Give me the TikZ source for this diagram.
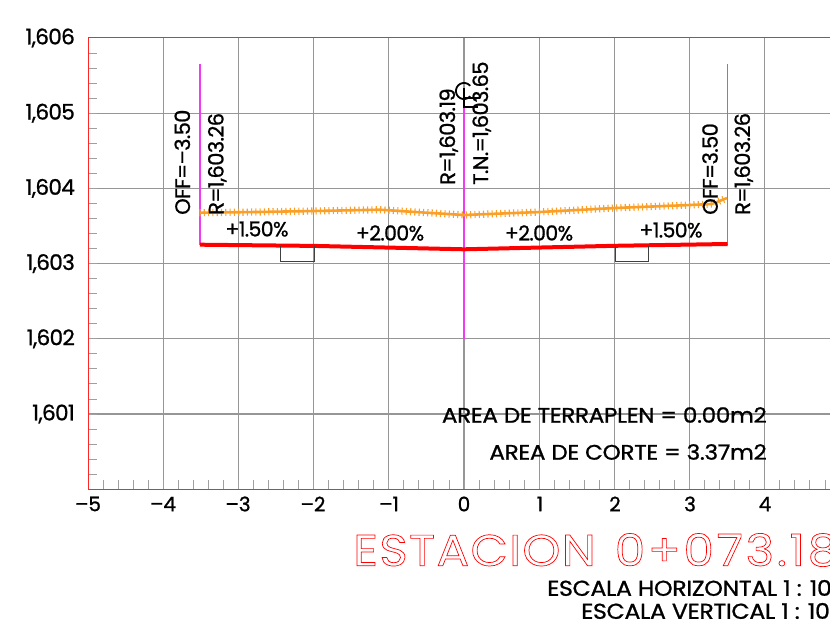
\documentclass[tikz,border=0pt]{standalone}
\usepackage{fontspec}
\setmainfont{Poppins}
\usetikzlibrary{decorations.pathreplacing}
\newfontfamily\tight[LetterSpace=-3,FakeBold=1]{Poppins}
\newfontfamily\digitfont[LetterSpace=-1,FakeBold=1]{Poppins}
\newfontfamily\stretched[FakeStretch=1.1,LetterSpace=-1.5,FakeBold=1]{Poppins}
\newfontfamily\wide[LetterSpace=3,FakeStretch=1.1]{Poppins}
\newfontfamily\wideb[LetterSpace=6,FakeStretch=1.1]{Poppins}
\definecolor{gridc}{RGB}{150,150,150}
\definecolor{tickc}{RGB}{160,160,160}
\definecolor{magc}{RGB}{240,60,240}
\definecolor{orgc}{RGB}{250,160,40}
\tikzset{
 gridline/.style={draw=gridc,line width=1.1pt},
 minortick/.style={draw=tickc,line width=0.9pt},
 axisline/.style={draw=red!85!white,line width=1pt},
 maglines/.style={draw=magc,line width=1.3pt},
 sub/.style={draw=red,line width=4pt},
 terr/.style={draw=orgc,line width=2.6pt},
 terrticks/.style={draw=orgc,line width=1.1pt,decorate,decoration={ticks,segment length=4.3pt,amplitude=3.6pt}},
 lab/.style={inner sep=0pt,font=\tight\fontsize{21}{21}\selectfont},
 vlab/.style={lab,rotate=90,anchor=base west},
 ylab/.style={lab,anchor=east,font=\tight\fontsize{21.5}{21}\selectfont},
 xlab/.style={lab,anchor=center,font=\digitfont\fontsize{20}{20}\selectfont},
 slope/.style={lab,anchor=center,font=\tight\fontsize{20.5}{20}\selectfont},
 area/.style={lab,anchor=east,font=\stretched\fontsize{21}{21}\selectfont},
 esc/.style={lab,anchor=west,font=\stretched\fontsize{21.5}{21}\selectfont},
 cl/.style={draw=black,line width=1.8pt},
}
\begin{document}
\begin{tikzpicture}[x=1pt,y=-1pt]
\useasboundingbox (0,0) rectangle (830,623);
\clip (0,0) rectangle (830,623);
% grid
\foreach \i in {1,...,9} \draw[gridline] ({88+75.2*\i},38) -- ({88+75.2*\i},489.3);
\foreach \i in {1,...,5} \draw[gridline] (88,{38+75.2*\i}) -- (830,{38+75.2*\i});
% minor ticks
\foreach \i in {1,...,29} \draw[minortick] (88,{38+15.04*\i}) -- (97,{38+15.04*\i});
\foreach \i in {1,...,49} \draw[minortick] ({88+15.04*\i},489.3) -- ({88+15.04*\i},480);
% axes
\draw[axisline] (830,38) -- (88,38) -- (88,489.3) -- (830,489.3);
% vertical magenta
\coordinate (ml) at (200,64); \coordinate (mlb) at (200,245);
\coordinate (mr) at (727.5,64); \coordinate (mrb) at (727.5,245);
\coordinate (mc) at (464,107); \coordinate (mcb) at (464,339);
\draw[maglines] (ml) -- (mlb);
\draw[maglines] (mr) -- (mrb);
\draw[maglines] (mc) -- (mcb);
% terrain
\def\terrpath{(200,212.7) -- (257,212) -- (314,211) -- (380,209.7) -- (420,212.3) -- (464,215) -- (540,212) -- (615,208) -- (690,205) -- (712,204) -- (727,198)}
\draw[terr] \terrpath;
\draw[terrticks] \terrpath;
% subgrade
\draw[sub] (200,244.7) -- (314,245.9) -- (464,249.3) -- (615,245.8) -- (727.5,244);
% small boxes
\draw[black!75,line width=.8pt] (280,246) -- (280,261) -- (314,261) -- (314,246);
\draw[black!75,line width=.8pt] (615,246) -- (615,261) -- (648,261) -- (648,246);
% CL symbol
\draw[cl] plot[domain=40:320,samples=40] ({464+8*cos(\x)},{91-8*sin(\x)});
\draw[cl] (464,88) -- (464,107) -- (478,107);
\draw[cl] (464,98) -- (480,98);
% rotated labels
\node[vlab] (a) at (190,215) {OFF=–3.50};
\node[vlab] (b) at (223.5,215) {R=1,603.26};
\node[vlab] (c) at (455,185) {R=1,603.19};
\node[vlab] (d) at (488,185) {T.N.=1,603.65};
\node[vlab] (e) at (717.7,215) {OFF=3.50};
\node[vlab] (f) at (750,215) {R=1,603.26};
% slopes
\node[slope] (s1) at (257,229) {+1.50\%};
\node[slope] (s2) at (390,233) {+2.00\%};
\node[slope] (s3) at (539,233) {+2.00\%};
\node[slope] (s4) at (671,230) {+1.50\%};
% y labels
\node[ylab] (y6) at (75,38) {1,606};
\node[ylab] (y5) at (75,113.2) {1,605};
\node[ylab] (y4) at (75,188.4) {1,604};
\node[ylab] (y3) at (75,263.6) {1,603};
\node[ylab] (y2) at (75,338.8) {1,602};
\node[ylab] (y1) at (75,414) {1,601};
% x labels
\node[xlab] (xm5) at (88,504) {–5};
\node[xlab] (xm4) at (163,504) {–4};
\node[xlab] (xm3) at (238,504) {–3};
\node[xlab] (xm2) at (313,504) {–2};
\node[xlab] (xm1) at (389,504) {–1};
\node[xlab] (x0) at (464,504) {0};
\node[xlab] (x1) at (540,504) {1};
\node[xlab] (x2) at (615,504) {2};
\node[xlab] (x3) at (690,504) {3};
\node[xlab] (x4) at (765,504) {4};
% areas
\node[area] (ar1) at (767,415) {AREA DE TERRAPLEN = 0.00m2};
\node[area] (ar2) at (767,452) {AREA DE CORTE = 3.37m2};
% title
\node[inner sep=0pt,anchor=west,text=red] (tt) at (353,550) {\special{pdf:code q 1 Tr 0.7 w 1 0 0 RG}\fontsize{44}{44}\selectfont{\wide ESTACION}\hspace{19pt}{\wideb 0+073.18}\special{pdf:code Q}};
\node[esc] (e1) at (547,588) {ESCALA HORIZONTAL 1 : 100};
\node[esc] (e2) at (581,611) {ESCALA VERTICAL 1 : 100};
\end{tikzpicture}
\end{document}
